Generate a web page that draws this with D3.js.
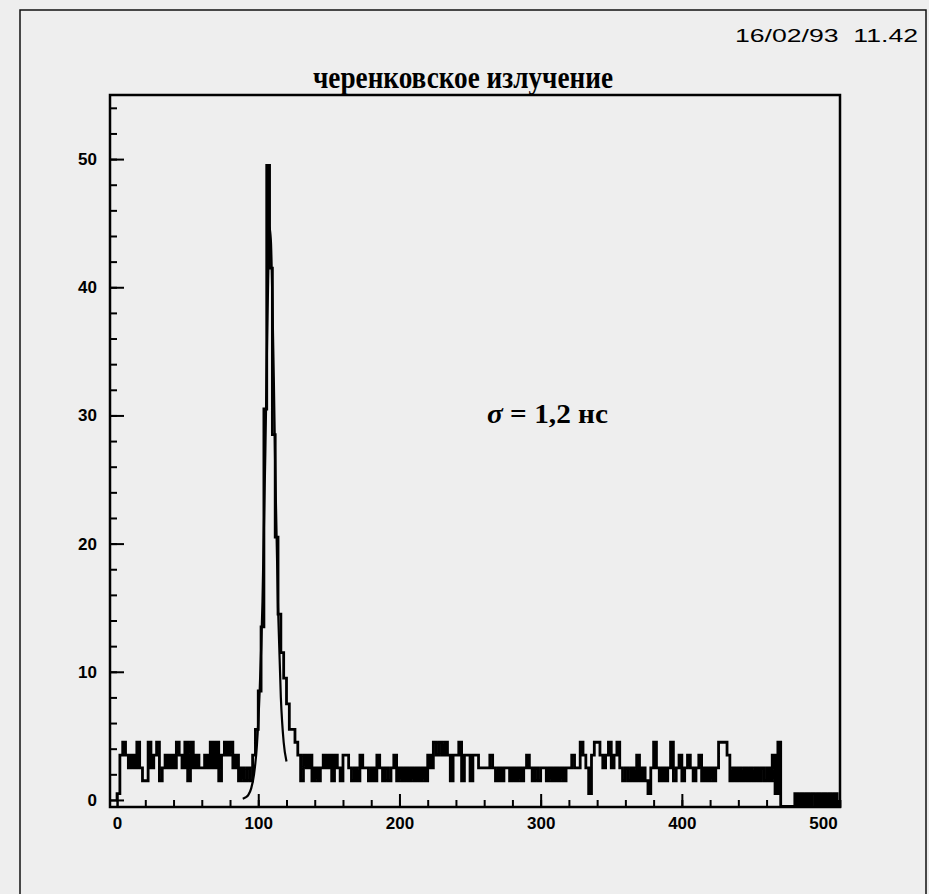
<!DOCTYPE html>
<html lang="ru">
<head>
<meta charset="utf-8">
<script src="https://cdn.jsdelivr.net/npm/d3@7"></script>
<style>
  body { margin: 0; background: #eeeeee; }
  .tick text { font-family: "Liberation Sans", Arial, sans-serif; font-weight: bold; font-size: 17px; fill: #000; }
  .tick line { stroke: #000; stroke-width: 2px; }
</style>
</head>
<body>
<div id="chart"></div>
<script>
// histogram bins, width 2 channels, starting at channel 0
var binWidth = 2;
var noiseLeft = [0.5, 3.5, 4.5, 3.5, 2.5, 3.5, 2.5, 4.5, 2.5, 1.5, 1.5, 4.5, 2.5, 3.5, 4.5, 1.5,
  2.5, 3.5, 2.5, 3.5, 2.5, 4.5, 3.5, 2.5, 4.5, 1.5, 4.5, 2.5, 3.5, 2.5, 2.5, 3.5,
  2.5, 4.5, 2.5, 4.5, 1.5, 3.5, 4.5, 3.5, 4.5, 2.5, 3.5, 1.5, 2.5, 1.5, 2.5, 1.5];
var peak = [3.5, 5.5, 8.5, 13.5, 30.5, 49.5, 41.5, 28.5, 20.5, 14.5, 11.5, 9.5, 7.5, 5.5, 5.5, 4.5, 3.5];
var noiseRight = [1.5, 3.5, 2.5, 3.5, 1.5, 2.5, 1.5, 2.5, 3.5, 2.5, 3.5, 1.5, 3.5, 2.5, 1.5, 3.5,
  3.5, 2.5, 1.5, 2.5, 1.5, 3.5, 2.5, 2.5, 1.5, 2.5, 1.5, 3.5, 2.5, 1.5, 2.5, 1.5,
  2.5, 3.5, 1.5, 2.5, 1.5, 2.5, 1.5, 2.5, 1.5, 2.5, 1.5, 2.5, 1.5, 3.5, 2.5, 4.5,
  3.5, 4.5, 3.5, 4.5, 3.5, 1.5, 3.5, 3.5, 4.5, 1.5, 3.5, 3.5, 1.5, 3.5, 3.5, 2.5,
  2.5, 2.5, 2.5, 3.5, 2.5, 1.5, 2.5, 1.5, 2.5, 2.5, 1.5, 2.5, 1.5, 2.5, 1.5, 2.5,
  3.5, 2.5, 1.5, 2.5, 1.5, 2.5, 2.5, 1.5, 2.5, 1.5, 2.5, 1.5, 2.5, 1.5, 2.5, 2.5,
  3.5, 2.5, 2.5, 4.5, 3.5, 2.5, 0.5, 3.5, 4.5, 4.5, 3.5, 2.5, 3.5, 4.5, 2.5, 3.5,
  4.5, 2.5, 1.5, 2.5, 1.5, 2.5, 1.5, 3.5, 1.5, 2.5, 1.5, 0.5, 2.5, 4.5, 2.5, 1.5,
  2.5, 1.5, 2.5, 4.5, 1.5, 2.5, 3.5, 1.5, 2.5, 3.5, 2.5, 1.5, 2.5, 3.5, 1.5, 2.5,
  1.5, 2.5, 1.5, 2.5, 4.5, 4.5, 4.5, 3.5, 1.5, 2.5, 1.5, 2.5, 1.5, 2.5, 1.5, 2.5,
  1.5, 2.5, 1.5, 2.5, 1.5, 2.5, 1.5, 3.5, 0.5, 4.5];
var tail = [-0.5, -0.5, -0.5, -0.5, -0.5, 0.5, -0.5, 0.5, -0.5, 0.5, -0.5, 0.5, -0.5, 0.5, -0.5, 0.5, -0.5, 0.5, -0.5, 0.5, -0.5];

// fitted gaussian: [channel, value]
var fitCurve = [[89, 0.1], [91, 0.2], [93, 0.4], [95, 0.9], [97, 2.0], [99, 4.2], [101, 8.5],
  [103, 15.5], [105, 27], [106, 34], [107, 40.5], [108, 44.7], [109, 43.5], [110, 39],
  [111, 33], [112, 26], [114, 15], [116, 8], [118, 4.5], [120, 3]];

var xMajor = [0, 100, 200, 300, 400, 500];
var yMajor = [0, 10, 20, 30, 40, 50];
var title = "черенковское излучение";
var stamp = "16/02/93  11.42";
var note = "1,2 нс";

var W = 929, H = 894;
var frame = {left: 110, top: 95, right: 840, bottom: 807};

var svg = d3.select("#chart").append("svg")
    .attr("width", W)
    .attr("height", H);

svg.append("rect")
    .attr("width", W).attr("height", H)
    .attr("fill", "#eeeeee");

// outer border of the sheet
svg.append("rect")
    .attr("x", 20).attr("y", 10)
    .attr("width", 906).attr("height", 900)
    .attr("fill", "none")
    .attr("stroke", "#111")
    .attr("stroke-width", 1.5);

var x = d3.scaleLinear()
    .domain([-5, 512])
    .range([frame.left, frame.right]);

var y = d3.scaleLinear()
    .domain([-0.55, 55])
    .range([frame.bottom, frame.top]);

// minor ticks
svg.append("g")
    .attr("transform", "translate(0," + frame.bottom + ")")
    .call(d3.axisBottom(x).tickValues(d3.range(0, 512, 20)).tickSize(-7).tickFormat(""))
    .call(function(g) { g.select(".domain").remove(); });
svg.append("g")
    .attr("transform", "translate(" + frame.left + ",0)")
    .call(d3.axisLeft(y).tickValues(d3.range(0, 55, 2)).tickSize(-7).tickFormat(""))
    .call(function(g) { g.select(".domain").remove(); });

// major ticks with labels
svg.append("g")
    .attr("transform", "translate(0," + frame.bottom + ")")
    .call(d3.axisBottom(x).tickValues(xMajor).tickSize(-13).tickPadding(10))
    .call(function(g) { g.select(".domain").remove(); });
svg.append("g")
    .attr("transform", "translate(" + frame.left + ",0)")
    .call(d3.axisLeft(y).tickValues(yMajor).tickSize(-14).tickPadding(13))
    .call(function(g) { g.select(".domain").remove(); });

svg.append("rect")
    .attr("x", frame.left).attr("y", frame.top)
    .attr("width", frame.right - frame.left)
    .attr("height", frame.bottom - frame.top)
    .attr("fill", "none")
    .attr("stroke", "#000")
    .attr("stroke-width", 2.5);

// histogram outline
var counts = noiseLeft.concat(peak, noiseRight, tail);
var pts = [[0, 0]];
counts.forEach(function(v, i) { pts.push([i * binWidth, v]); });
var xEnd = counts.length * binWidth;
pts.push([xEnd, counts[counts.length - 1]]);
pts.push([xEnd, 0]);

var stepLine = d3.line()
    .x(function(d) { return x(d[0]); })
    .y(function(d) { return y(d[1]); })
    .curve(d3.curveStepAfter);

svg.append("path")
    .datum(pts)
    .attr("d", stepLine)
    .attr("fill", "none")
    .attr("stroke", "#000")
    .attr("stroke-width", 2.8);

var fitLine = d3.line()
    .x(function(d) { return x(d[0]); })
    .y(function(d) { return y(d[1]); })
    .curve(d3.curveMonotoneX);

svg.append("path")
    .datum(fitCurve)
    .attr("d", fitLine)
    .attr("fill", "none")
    .attr("stroke", "#000")
    .attr("stroke-width", 2.2);

// texts
svg.append("text")
    .attr("x", 918).attr("y", 42)
    .attr("text-anchor", "end")
    .attr("font-family", "'Liberation Sans Narrow', 'Liberation Sans', sans-serif")
    .attr("font-size", 18)
    .attr("textLength", 183)
    .attr("lengthAdjust", "spacingAndGlyphs")
    .attr("xml:space", "preserve")
    .text(stamp);

svg.append("text")
    .attr("x", 313).attr("y", 88)
    .attr("font-family", "'Liberation Serif', 'Times New Roman', serif")
    .attr("font-weight", "bold")
    .attr("font-size", 31)
    .attr("textLength", 300)
    .attr("lengthAdjust", "spacingAndGlyphs")
    .text(title);

var sig = svg.append("text")
    .attr("x", 487).attr("y", 423)
    .attr("font-family", "'Liberation Serif', 'Times New Roman', serif")
    .attr("font-weight", "bold")
    .attr("font-size", 28)
    .attr("textLength", 121)
    .attr("lengthAdjust", "spacingAndGlyphs");
sig.append("tspan").attr("font-style", "italic").text("σ");
sig.append("tspan").text(" = " + note);
</script>
</body>
</html>
